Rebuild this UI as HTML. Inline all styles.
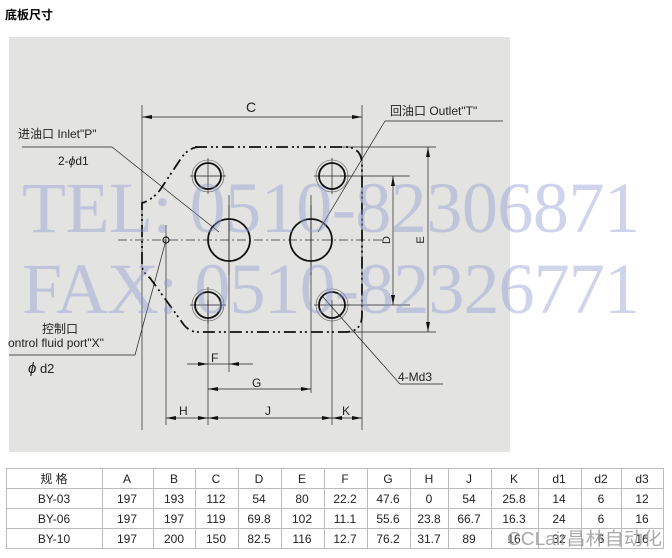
<!DOCTYPE html>
<html><head><meta charset="utf-8"><style>
body{margin:0;background:#fff;width:672px;height:558px;overflow:hidden}
svg{display:block}
</style></head><body>
<svg width="672" height="558" viewBox="0 0 672 558" xmlns="http://www.w3.org/2000/svg" font-family="Liberation Sans, Noto Sans CJK SC, sans-serif">
<text x="5" y="19" font-size="12" font-weight="bold" font-family="Noto Sans CJK SC, sans-serif">底板尺寸</text>
<rect x="9" y="37" width="501" height="415" fill="#e3e3e1"/>
<g stroke="#222" fill="none" stroke-width="0.7">
<line x1="142" y1="105" x2="142" y2="430"/>
<line x1="362" y1="105" x2="362" y2="430"/>
<line x1="142" y1="117" x2="362" y2="117"/>
<line x1="340" y1="147" x2="436" y2="147"/>
<line x1="340" y1="332" x2="436" y2="332"/>
<line x1="428" y1="147" x2="428" y2="332"/>
<line x1="340" y1="176" x2="410" y2="176"/>
<line x1="340" y1="305" x2="410" y2="305"/>
<line x1="393" y1="176" x2="393" y2="305"/>
<line x1="208" y1="300" x2="208" y2="425"/>
<line x1="229" y1="195" x2="229" y2="372"/>
<line x1="311" y1="195" x2="311" y2="393"/>
<line x1="332" y1="300" x2="332" y2="425"/>
<line x1="166" y1="225" x2="166" y2="425"/>
<line x1="187" y1="364" x2="253" y2="364"/>
<line x1="208" y1="389" x2="311" y2="389"/>
<line x1="166" y1="418" x2="362" y2="418"/>
<line x1="190" y1="176" x2="226" y2="176"/><line x1="208" y1="158" x2="208" y2="194"/>
<line x1="314" y1="176" x2="350" y2="176"/><line x1="332" y1="158" x2="332" y2="194"/>
<line x1="190" y1="305" x2="226" y2="305"/><line x1="208" y1="287" x2="208" y2="323"/>
<line x1="314" y1="305" x2="350" y2="305"/>
<line x1="229" y1="205" x2="229" y2="275"/><line x1="311" y1="205" x2="311" y2="275"/>
<line x1="22" y1="147" x2="112" y2="147"/><line x1="112" y1="147" x2="219" y2="232"/>
<line x1="385" y1="121" x2="503" y2="121"/><line x1="385" y1="121" x2="318" y2="232"/>
<line x1="166" y1="240" x2="135" y2="355"/><line x1="135" y1="355" x2="9" y2="355"/>
<line x1="323" y1="297" x2="400" y2="384"/><line x1="400" y1="384" x2="443" y2="384"/>
<circle cx="208" cy="176" r="16" stroke="#555" stroke-width="0.6"/>
<circle cx="332" cy="176" r="16" stroke="#555" stroke-width="0.6"/>
<circle cx="208" cy="305" r="16" stroke="#555" stroke-width="0.6"/>
<circle cx="332" cy="305" r="16" stroke="#555" stroke-width="0.6"/>
</g>
<g stroke="#111" fill="none" stroke-width="1.8">
<circle cx="208" cy="176" r="13"/><circle cx="332" cy="176" r="13"/>
<circle cx="208" cy="305" r="13"/><circle cx="332" cy="305" r="13"/>
<circle cx="229" cy="240" r="21"/><circle cx="311" cy="240" r="21"/>
<circle cx="166" cy="240" r="3" stroke-width="1.2"/>
</g>
<line x1="118" y1="240" x2="385" y2="240" stroke="#333" stroke-width="0.8" stroke-dasharray="9,3,2,3"/>
<path d="M195,147 L345,147 Q362,147 362,165 L362,315 Q362,332 345,332 L195,332 Q188,330 184,325 L150,278 Q142,272 142,265 L142,203 Q152,200 160,190 L180,160 Q188,147 200,147 Z" fill="none" stroke="#111" stroke-width="1.8" stroke-dasharray="12,4,2,3,2,4"/>
<g fill="#111">
<polygon points="142,117 152,115 152,119"/><polygon points="362,117 352,115 352,119"/>
<polygon points="428,147 426,157 430,157"/><polygon points="428,332 426,322 430,322"/>
<polygon points="393,176 391,186 395,186"/><polygon points="393,305 391,295 395,295"/>
<polygon points="208,364 198,362 198,366"/><polygon points="229,364 239,362 239,366"/>
<polygon points="208,389 218,387 218,391"/><polygon points="311,389 301,387 301,391"/>
<polygon points="166,418 176,416 176,420"/><polygon points="208,418 198,416 198,420"/>
<polygon points="208,418 218,416 218,420"/><polygon points="332,418 322,416 322,420"/>
<polygon points="332,418 342,416 342,420"/><polygon points="362,418 352,416 352,420"/>
</g>
<g font-size="12" fill="#222">
<text x="246" y="112" font-size="14">C</text>
<text x="18" y="138">进油口 Inlet"P"</text>
<text x="58" y="165">2-<tspan font-style="italic">ϕ</tspan>d1</text>
<text x="390" y="115">回油口 Outlet"T"</text>
<text x="42" y="333">控制口</text>
<text x="8" y="347">ontrol fluid port"X"</text>
<text x="28" y="373" font-size="13"><tspan font-style="italic" font-size="15">ϕ</tspan> d2</text>
<text x="398" y="381">4-Md3</text>
<text x="211" y="362">F</text>
<text x="252" y="387">G</text>
<text x="179" y="415">H</text>
<text x="265" y="415">J</text>
<text x="342" y="415">K</text>
<text transform="translate(390,240) rotate(-90)" text-anchor="middle" font-size="11">D</text>
<text transform="translate(424,240) rotate(-90)" text-anchor="middle" font-size="11">E</text>
</g>
<g font-family="Liberation Serif, serif" font-size="72" fill="rgb(140,152,210)" fill-opacity="0.42">
<text x="22" y="232" textLength="618" lengthAdjust="spacing">TEL: 0510-82306871</text>
<text x="22" y="313" textLength="618" lengthAdjust="spacing">FAX: 0510-82326771</text>
</g>
<g stroke="#bbb" stroke-width="1" fill="none">
<rect x="6.5" y="468.5" width="657" height="80"/>
<line x1="6" y1="488.5" x2="664" y2="488.5"/>
<line x1="6" y1="508.5" x2="664" y2="508.5"/>
<line x1="6" y1="528.5" x2="664" y2="528.5"/>
<line x1="102.5" y1="468" x2="102.5" y2="549"/><line x1="153.5" y1="468" x2="153.5" y2="549"/>
<line x1="195.5" y1="468" x2="195.5" y2="549"/><line x1="238.5" y1="468" x2="238.5" y2="549"/>
<line x1="281.5" y1="468" x2="281.5" y2="549"/><line x1="324.5" y1="468" x2="324.5" y2="549"/>
<line x1="367.5" y1="468" x2="367.5" y2="549"/><line x1="410.5" y1="468" x2="410.5" y2="549"/>
<line x1="448.5" y1="468" x2="448.5" y2="549"/><line x1="491.5" y1="468" x2="491.5" y2="549"/>
<line x1="538.5" y1="468" x2="538.5" y2="549"/><line x1="581.5" y1="468" x2="581.5" y2="549"/>
<line x1="621.5" y1="468" x2="621.5" y2="549"/>
</g>
<g font-size="12" fill="#222" text-anchor="middle">
<text x="54" y="483">规 格</text><text x="127" y="483">A</text><text x="174" y="483">B</text><text x="216" y="483">C</text><text x="259" y="483">D</text><text x="302" y="483">E</text><text x="345" y="483">F</text><text x="388" y="483">G</text><text x="429" y="483">H</text><text x="469" y="483">J</text><text x="514" y="483">K</text><text x="559" y="483">d1</text><text x="601" y="483">d2</text><text x="642" y="483">d3</text>
<text x="54" y="503">BY-03</text><text x="127" y="503">197</text><text x="174" y="503">193</text><text x="216" y="503">112</text><text x="259" y="503">54</text><text x="302" y="503">80</text><text x="345" y="503">22.2</text><text x="388" y="503">47.6</text><text x="429" y="503">0</text><text x="469" y="503">54</text><text x="514" y="503">25.8</text><text x="559" y="503">14</text><text x="601" y="503">6</text><text x="642" y="503">12</text>
<text x="54" y="523">BY-06</text><text x="127" y="523">197</text><text x="174" y="523">197</text><text x="216" y="523">119</text><text x="259" y="523">69.8</text><text x="302" y="523">102</text><text x="345" y="523">11.1</text><text x="388" y="523">55.6</text><text x="429" y="523">23.8</text><text x="469" y="523">66.7</text><text x="514" y="523">16.3</text><text x="559" y="523">24</text><text x="601" y="523">6</text><text x="642" y="523">16</text>
<text x="54" y="543">BY-10</text><text x="127" y="543">197</text><text x="174" y="543">200</text><text x="216" y="543">150</text><text x="259" y="543">82.5</text><text x="302" y="543">116</text><text x="345" y="543">12.7</text><text x="388" y="543">76.2</text><text x="429" y="543">31.7</text><text x="469" y="543">89</text><text x="514" y="543">16</text><text x="559" y="543">32</text><text x="601" y="543">6</text><text x="642" y="543">16</text>
</g>
<text x="507" y="545" font-size="18" fill="#999" fill-opacity="0.85" textLength="155" lengthAdjust="spacingAndGlyphs">CCLair昌林自动化</text>
</svg>
</body></html>
